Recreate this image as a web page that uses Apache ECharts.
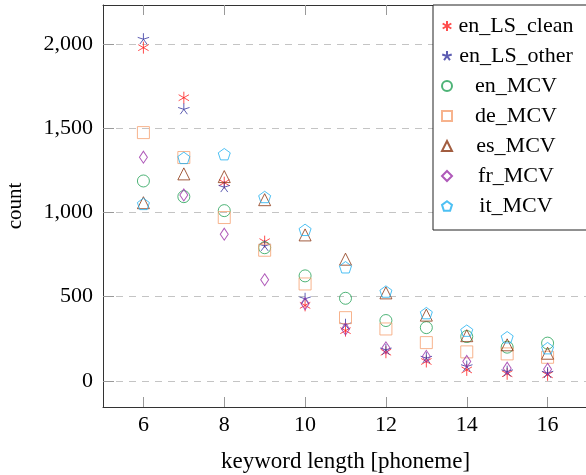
<!DOCTYPE html>
<html>
<head>
<meta charset="utf-8">
<script src="https://cdn.jsdelivr.net/npm/echarts@6/dist/echarts.min.js"></script>
<style>
  html, body { margin: 0; padding: 0; background: #fff; }
  #chart { width: 586px; height: 475px; }
</style>
</head>
<body>
<div id="chart"></div>
<script>
// keyword length (phonemes)
const lengths = [6, 7, 8, 9, 10, 11, 12, 13, 14, 15, 16]
const enLSClean = [1977, 1680, 1176, 826, 448, 298, 170, 115, 65, 42, 36]
const enLSOther = [2027, 1611, 1149, 800, 487, 333, 184, 135, 85, 55, 46]
const enMCV = [1186, 1093, 1010, 790, 623, 490, 358, 316, 263, 200, 224]
const deMCV = [1473, 1325, 969, 775, 575, 375, 308, 227, 172, 160, 140]
const esMCV = [1057, 1228, 1212, 1075, 866, 722, 522, 390, 268, 214, 164]
const frMCV = [1327, 1103, 870, 600, 458, 308, 196, 145, 115, 75, 69]
const itMCV = [1050, 1323, 1345, 1091, 896, 674, 530, 402, 298, 259, 194]
const xTicks = [6, 8, 10, 12, 14, 16]
const yTicks = [0, 500, 1000, 1500, 2000]

const FONT = 'Liberation Serif'

// marker shapes
const ASTERISK = 'path://M0,-10L0,10M-8.66,-5L8.66,5M-8.66,5L8.66,-5'
const STAR = 'path://M0,0L0,-10M0,0L9.51,-3.09M0,0L5.88,8.09M0,0L-5.88,8.09M0,0L-9.51,-3.09M0,10L0,10'
const PENTAGON = 'path://M0,-10L9.51,-3.09L5.88,8.09L-5.88,8.09L-9.51,-3.09Z'

const seriesDefs = [
  { name: 'en_LS_clean', data: enLSClean, color: '#ff2020', symbol: ASTERISK, size: 12 },
  { name: 'en_LS_other', data: enLSOther, color: '#35359f', symbol: STAR, size: 12 },
  { name: 'en_MCV', data: enMCV, color: '#22a055', symbol: 'circle', size: 12 },
  { name: 'de_MCV', data: deMCV, color: '#f5a070', symbol: 'rect', size: 12 },
  { name: 'es_MCV', data: esMCV, color: '#8b3510', symbol: 'triangle', size: 12 },
  { name: 'fr_MCV', data: frMCV, color: '#9b30a8', symbol: 'diamond', size: [8, 12] },
  { name: 'it_MCV', data: itMCV, color: '#20b0f0', symbol: PENTAGON, size: 12 }
]

function fmt(v) {
  return String(v).replace(/\B(?=(\d{3})+(?!\d))/g, ',')
}

const chart = echarts.init(document.getElementById('chart'))

chart.setOption({
  animation: false,
  textStyle: { fontFamily: FONT },
  grid: { left: 103, top: 5, width: 485, height: 402, outerBoundsMode: 'none' },
  legend: {
    orient: 'vertical',
    left: 433,
    top: 5,
    padding: [10, 16, 13, 8],
    itemWidth: 10,
    itemHeight: 10,
    itemGap: 8,
    borderColor: '#222',
    borderWidth: 1,
    backgroundColor: '#fff',
    formatter: name => '{a|' + name + '}',
    textStyle: {
      rich: {
        a: { width: 118, align: 'center', fontSize: 22, lineHeight: 22, fontFamily: FONT, color: '#000' }
      }
    }
  },
  xAxis: [{
    type: 'value',
    min: 5,
    max: 17,
    name: 'keyword length [phoneme]',
    nameLocation: 'middle',
    nameGap: 43,
    nameTextStyle: { fontSize: 23, color: '#000', fontFamily: FONT },
    axisLine: { show: true, onZero: false, lineStyle: { color: '#333', width: 1 } },
    axisTick: { show: true, inside: true, length: 10, customValues: xTicks, lineStyle: { color: '#999' } },
    axisLabel: { customValues: xTicks, margin: 7, fontSize: 22, color: '#000', fontFamily: FONT },
    splitLine: { show: false }
  }, {
    type: 'value',
    position: 'top',
    min: 5,
    max: 17,
    axisLine: { show: true, onZero: false, lineStyle: { color: '#333', width: 1 } },
    axisTick: { show: true, inside: true, length: 10, customValues: xTicks, lineStyle: { color: '#999' } },
    axisLabel: { show: false },
    splitLine: { show: false }
  }],
  yAxis: {
    type: 'value',
    min: -155,
    max: 2230,
    name: 'count',
    nameLocation: 'middle',
    nameGap: 77,
    nameTextStyle: { fontSize: 21, color: '#000', fontFamily: FONT },
    axisLine: { show: true, onZero: false, lineStyle: { color: '#333', width: 1 } },
    axisTick: { show: true, inside: true, length: 11, customValues: yTicks, lineStyle: { color: '#999' } },
    axisLabel: { customValues: yTicks, margin: 10, fontSize: 22, color: '#000', fontFamily: FONT, formatter: fmt },
    splitLine: { show: true, lineStyle: { color: '#c4c4c4', width: 1.2, type: [7, 6] } }
  },
  series: seriesDefs.map(s => ({
    name: s.name,
    type: 'scatter',
    symbol: s.symbol,
    symbolSize: s.size,
    symbolKeepAspect: true,
    itemStyle: { color: 'rgba(0,0,0,0)', borderColor: s.color, borderWidth: 1 },
    emphasis: { disabled: true },
    data: lengths.map((x, i) => [x, s.data[i]])
  }))
})
</script>
</body>
</html>
